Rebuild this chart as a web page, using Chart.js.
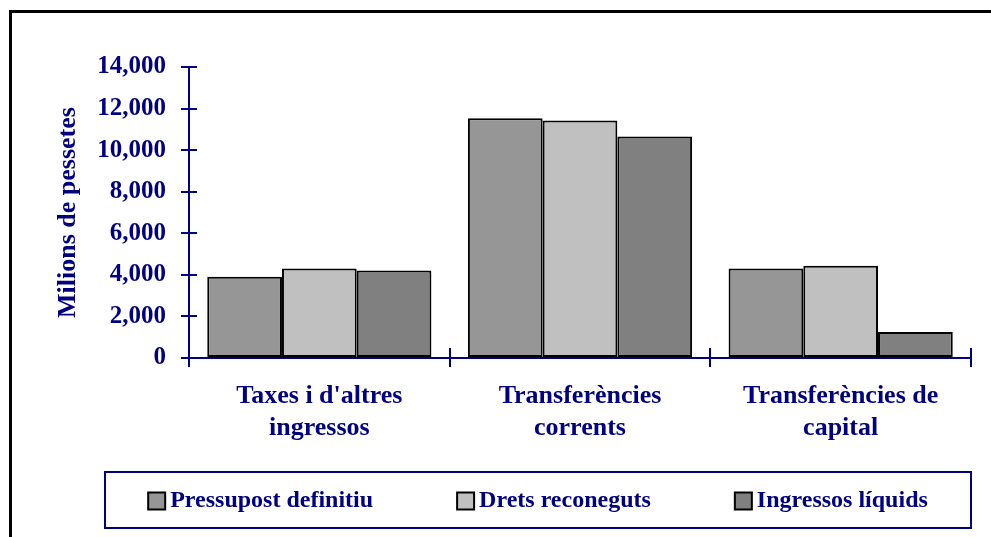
<!DOCTYPE html>
<html>
<head>
<meta charset="utf-8">
<script src="https://cdn.jsdelivr.net/npm/chart.js@4.4.1/dist/chart.umd.min.js"></script>
<style>
  body { margin: 0; background: #fff; }
  canvas { display: block; }
</style>
</head>
<body>
<canvas id="ingressosChart" width="991" height="537"></canvas>
<script>
// Dades llegides del gràfic (milions de pessetes)
const categories = [
    ["Taxes i d'altres", "ingressos"],
    ["Transferències", "corrents"],
    ["Transferències de", "capital"]
];
const seriesNames = ['Pressupost definitiu', 'Drets reconeguts', 'Ingressos líquids'];
const pressupostDefinitiu = [3910, 11530, 4310];
const dretsReconeguts = [4300, 11430, 4440];
const ingressosLiquids = [4210, 10660, 1250];
const yTicks = [0, 2000, 4000, 6000, 8000, 10000, 12000, 14000];

const NAVY = '#000080';
const FONT = "'Liberation Serif', 'Times New Roman', serif";
const barColors = ['#969696', '#c0c0c0', '#808080'];

// Marc negre exterior (només esquerra i dalt són visibles)
const outerFrame = {
    id: 'outerFrame',
    beforeDraw(chart) {
        const ctx = chart.ctx;
        ctx.save();
        ctx.fillStyle = '#fff';
        ctx.fillRect(0, 0, chart.width, chart.height);
        ctx.strokeStyle = '#000';
        ctx.lineWidth = 3;
        ctx.beginPath();
        ctx.moveTo(10.5, chart.height);
        ctx.lineTo(10.5, 11.5);
        ctx.lineTo(chart.width, 11.5);
        ctx.stroke();
        ctx.restore();
    }
};

// Marques que travessen els eixos (part interior)
const crossTicks = {
    id: 'crossTicks',
    afterDatasetsDraw(chart) {
        const ctx = chart.ctx;
        const x = chart.scales.x, y = chart.scales.y;
        ctx.save();
        ctx.strokeStyle = NAVY;
        ctx.lineWidth = 2;
        ctx.beginPath();
        yTicks.forEach(v => {
            const py = Math.round(y.getPixelForValue(v));
            ctx.moveTo(y.right, py);
            ctx.lineTo(y.right + 8, py);
        });
        const n = chart.data.labels.length;
        for (let i = 0; i <= n; i++) {
            const px = Math.round(x.left + i * x.width / n);
            ctx.moveTo(px, x.top);
            ctx.lineTo(px, x.top - 10);
        }
        ctx.stroke();
        ctx.restore();
    }
};

// Llegenda emmarcada a sota
const boxedLegend = {
    id: 'boxedLegend',
    afterDraw(chart) {
        const ctx = chart.ctx;
        const box = { left: 105, top: 472, right: 971, bottom: 528 };
        const gap = 84, sq = 17, sqGap = 5;
        ctx.save();
        ctx.strokeStyle = NAVY;
        ctx.lineWidth = 2;
        ctx.strokeRect(box.left, box.top, box.right - box.left, box.bottom - box.top);
        ctx.font = 'bold 24px ' + FONT;
        const items = chart.data.datasets.map(ds => ({
            text: ds.label, color: ds.backgroundColor,
            w: sq + sqGap + ctx.measureText(ds.label).width
        }));
        const total = items.reduce((s, it) => s + it.w, 0) + gap * (items.length - 1);
        let cx = (box.left + box.right) / 2 - total / 2;
        const cy = (box.top + box.bottom) / 2 + 1;
        items.forEach(it => {
            ctx.fillStyle = it.color;
            ctx.fillRect(cx, cy - sq / 2, sq, sq);
            ctx.strokeStyle = '#000';
            ctx.lineWidth = 2;
            ctx.strokeRect(cx, cy - sq / 2, sq, sq);
            ctx.fillStyle = NAVY;
            ctx.textBaseline = 'middle';
            ctx.fillText(it.text, cx + sq + sqGap, cy);
            cx += it.w + gap;
        });
        ctx.restore();
    }
};

const ctx = document.getElementById('ingressosChart').getContext('2d');
new Chart(ctx, {
    type: 'bar',
    data: {
        labels: categories,
        datasets: [pressupostDefinitiu, dretsReconeguts, ingressosLiquids].map((d, i) => ({
            label: seriesNames[i],
            data: d,
            backgroundColor: barColors[i],
            borderColor: '#000',
            borderWidth: 2,
            borderSkipped: false,
            barPercentage: 1,
            categoryPercentage: 0.86
        }))
    },
    options: {
        responsive: false,
        animation: false,
        devicePixelRatio: 1,
        layout: { padding: { top: 67, right: 20, left: 0, bottom: 84 } },
        plugins: {
            legend: { display: false },
            tooltip: { enabled: false }
        },
        scales: {
            x: {
                afterFit: s => { s.height = 95; },
                grid: { display: true, drawOnChartArea: false, drawTicks: true, tickLength: 9, color: NAVY, lineWidth: 2, offset: true },
                border: { display: true, color: NAVY, width: 2 },
                ticks: {
                    color: NAVY, padding: 13, maxRotation: 0, autoSkip: false,
                    font: { family: FONT, size: 26, weight: 'bold', lineHeight: 1.23 }
                }
            },
            y: {
                min: 0,
                max: 14000,
                afterFit: s => { s.width = 189; },
                afterBuildTicks: s => { s.ticks = yTicks.map(v => ({ value: v })); },
                grid: { display: true, drawOnChartArea: false, drawTicks: true, tickLength: 8, color: NAVY, lineWidth: 2 },
                border: { display: true, color: NAVY, width: 2 },
                ticks: {
                    color: NAVY, padding: 15,
                    font: { family: FONT, size: 25, weight: 'bold' },
                    callback: v => v.toLocaleString('en-US')
                },
                title: {
                    display: true,
                    text: 'Milions de pessetes',
                    color: NAVY,
                    padding: { top: 53, bottom: 0 },
                    font: { family: FONT, size: 26, weight: 'bold', lineHeight: 1.2 }
                }
            }
        }
    },
    plugins: [outerFrame, crossTicks, boxedLegend]
});
</script>
</body>
</html>
